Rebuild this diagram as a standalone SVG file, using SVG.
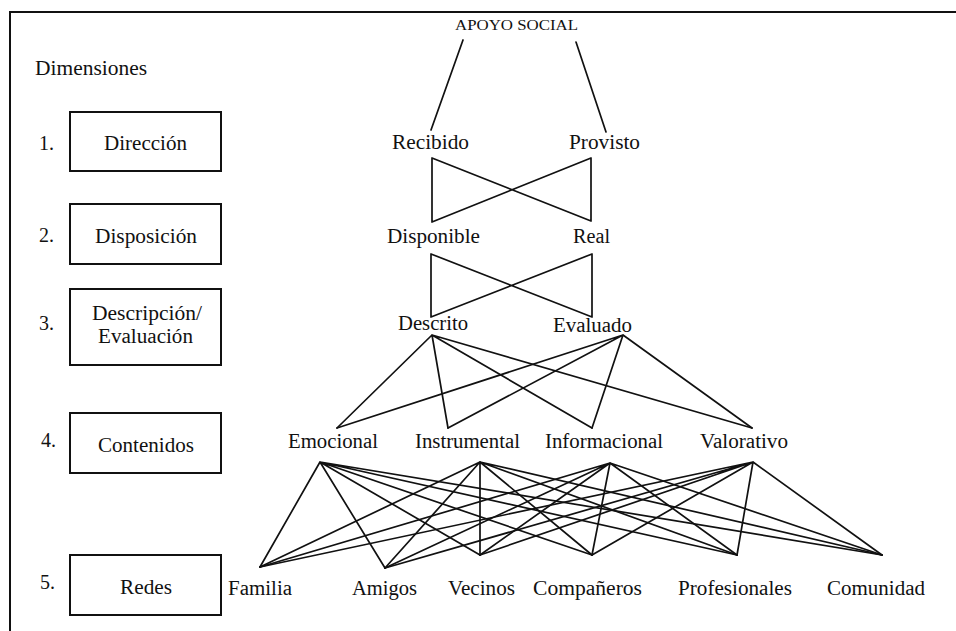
<svg xmlns="http://www.w3.org/2000/svg" width="956" height="631" viewBox="0 0 956 631">
<style>
.t{font-family:"Liberation Serif","Times New Roman",serif;font-size:20px;fill:#111}
.s{font-size:15px}
.box{fill:none;stroke:#111;stroke-width:2}
.ln{stroke:#111;stroke-width:1.7;fill:none;stroke-linecap:round}
.fr{stroke:#111;stroke-width:2;fill:none}
</style>
<rect width="956" height="631" fill="#fff"/>
<g id="frame">
<path class="fr" d="M10,631 V12 H956"/>
</g>
<text class="t" x="35" y="75" textLength="112" lengthAdjust="spacingAndGlyphs">Dimensiones</text>
<g id="dim1">
<text class="t" x="39" y="150">1.</text>
<rect class="box" x="70" y="112" width="151" height="59"/>
<text class="t" x="104" y="150" textLength="83" lengthAdjust="spacingAndGlyphs">Dirección</text>
</g>
<g id="dim2">
<text class="t" x="39" y="242">2.</text>
<rect class="box" x="70" y="204" width="151" height="60"/>
<text class="t" x="95" y="243" textLength="102" lengthAdjust="spacingAndGlyphs">Disposición</text>
</g>
<g id="dim3">
<text class="t" x="39" y="330">3.</text>
<rect class="box" x="70" y="289" width="151" height="76"/>
<text class="t" x="92" y="320" textLength="110" lengthAdjust="spacingAndGlyphs">Descripción/</text>
<text class="t" x="98" y="343" textLength="95" lengthAdjust="spacingAndGlyphs">Evaluación</text>
</g>
<g id="dim4">
<text class="t" x="41" y="447">4.</text>
<rect class="box" x="70" y="413" width="151" height="60"/>
<text class="t" x="98" y="452" textLength="96" lengthAdjust="spacingAndGlyphs">Contenidos</text>
</g>
<g id="dim5">
<text class="t" x="40" y="589">5.</text>
<rect class="box" x="70" y="555" width="151" height="60"/>
<text class="t" x="120" y="594" textLength="52" lengthAdjust="spacingAndGlyphs">Redes</text>
</g>
<g id="apoyo"><text class="t s" x="455" y="30" textLength="123" lengthAdjust="spacingAndGlyphs">APOYO SOCIAL</text></g>
<g id="recibido"><text class="t" x="392" y="149" textLength="77" lengthAdjust="spacingAndGlyphs">Recibido</text></g>
<g id="provisto"><text class="t" x="569" y="149" textLength="71" lengthAdjust="spacingAndGlyphs">Provisto</text></g>
<g id="disponible"><text class="t" x="387" y="243" textLength="93" lengthAdjust="spacingAndGlyphs">Disponible</text></g>
<g id="real"><text class="t" x="573" y="243" textLength="37" lengthAdjust="spacingAndGlyphs">Real</text></g>
<g id="descrito"><text class="t" x="398" y="330" textLength="70" lengthAdjust="spacingAndGlyphs">Descrito</text></g>
<g id="evaluado"><text class="t" x="553" y="332" textLength="79" lengthAdjust="spacingAndGlyphs">Evaluado</text></g>
<g id="emocional"><text class="t" x="288" y="448" textLength="90" lengthAdjust="spacingAndGlyphs">Emocional</text></g>
<g id="instrumental"><text class="t" x="415" y="448" textLength="105" lengthAdjust="spacingAndGlyphs">Instrumental</text></g>
<g id="informacional"><text class="t" x="545" y="448" textLength="118" lengthAdjust="spacingAndGlyphs">Informacional</text></g>
<g id="valorativo"><text class="t" x="700" y="448" textLength="88" lengthAdjust="spacingAndGlyphs">Valorativo</text></g>
<g id="familia"><text class="t" x="228" y="595" textLength="64" lengthAdjust="spacingAndGlyphs">Familia</text></g>
<g id="amigos"><text class="t" x="352" y="595" textLength="65" lengthAdjust="spacingAndGlyphs">Amigos</text></g>
<g id="vecinos"><text class="t" x="448" y="595" textLength="67" lengthAdjust="spacingAndGlyphs">Vecinos</text></g>
<g id="companeros"><text class="t" x="533" y="595" textLength="109" lengthAdjust="spacingAndGlyphs">Compañeros</text></g>
<g id="profesionales"><text class="t" x="678" y="595" textLength="114" lengthAdjust="spacingAndGlyphs">Profesionales</text></g>
<g id="comunidad"><text class="t" x="827" y="595" textLength="98" lengthAdjust="spacingAndGlyphs">Comunidad</text></g>
<g id="connectors" class="ln">
<path class="ln" d="M463,40 L431,130 M576,42 L606,132"/>
<path class="ln" d="M432,158 L432,222 M591,158 L591,221 M432,158 L591,221 M591,158 L432,222"/>
<path class="ln" d="M431,254 L431,317 M592,254 L592,317 M431,254 L592,317 M592,254 L431,317"/>
<path class="ln" d="M432,335 L337,428 M432,335 L448,428 M432,335 L592,428 M432,335 L752,428"/>
<path class="ln" d="M623,335 L337,428 M623,335 L448,428 M623,335 L592,428 M623,335 L752,428"/>
<path class="ln" d="M320,462 L260,567 M320,462 L385,568 M320,462 L480,555 M320,462 L592,555 M320,462 L737,555 M320,462 L882,555"/>
<path class="ln" d="M480,462 L260,567 M480,462 L385,568 M480,462 L480,555 M480,462 L592,555 M480,462 L737,555 M480,462 L882,555"/>
<path class="ln" d="M610,463 L260,567 M610,463 L385,568 M610,463 L480,555 M610,463 L592,555 M610,463 L737,555 M610,463 L882,555"/>
<path class="ln" d="M753,462 L260,567 M753,462 L385,568 M753,462 L480,555 M753,462 L592,555 M753,462 L737,555 M753,462 L882,555"/>
</g>
</svg>
